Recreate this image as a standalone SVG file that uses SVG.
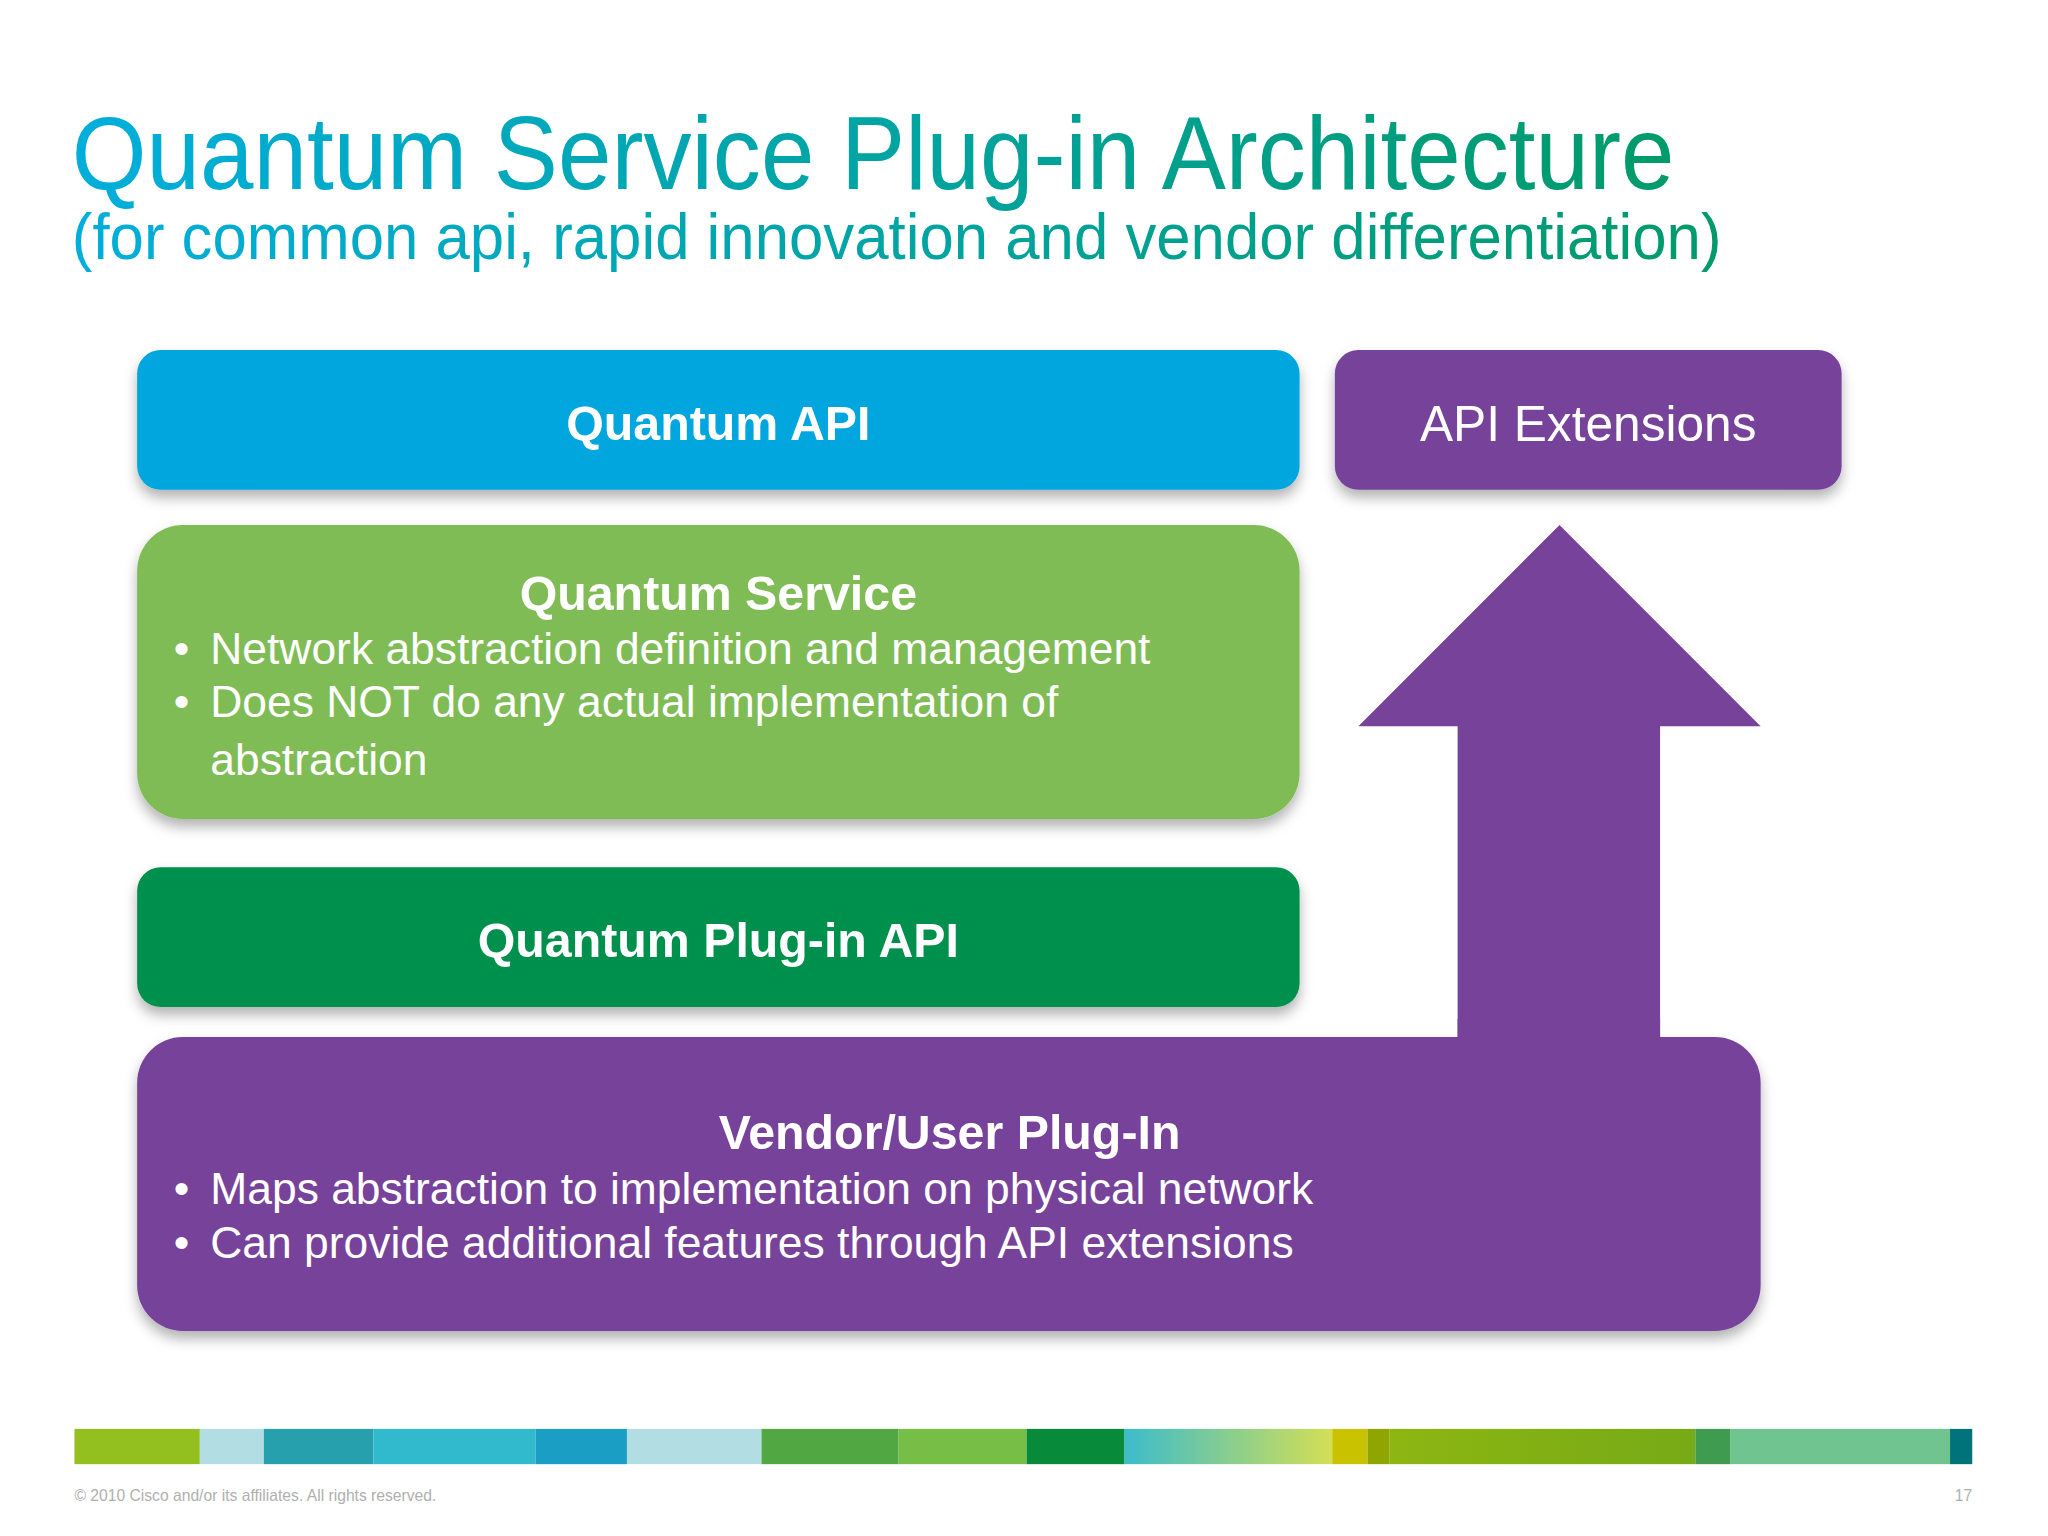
<svg xmlns="http://www.w3.org/2000/svg" width="2048" height="1536" viewBox="0 0 2048 1536">
<defs>
<linearGradient id="tg" x1="0" x2="1" y1="0" y2="0"><stop offset="0" stop-color="#00AEDB"/><stop offset="1" stop-color="#009A6A"/></linearGradient>
<linearGradient id="g1" x1="0" x2="1"><stop offset="0" stop-color="#3CBCCB"/><stop offset="1" stop-color="#D4DF55"/></linearGradient>
<linearGradient id="g2" x1="0" x2="1"><stop offset="0" stop-color="#8DB612"/><stop offset="1" stop-color="#76AA16"/></linearGradient>
<filter id="sh" x="-5%" y="-10%" width="110%" height="130%"><feDropShadow dx="0" dy="6" stdDeviation="5" flood-color="#000" flood-opacity="0.3"/></filter>
<style>
.t{font-family:"Liberation Sans",Arial,sans-serif;fill:#fff}
.b{font-weight:bold;font-size:37px}
.n{font-size:34px}
</style>
</defs>
<rect width="2048" height="1536" fill="#fff"/>
<g transform="scale(1.30612)">
<g id="title">
<text x="55" y="145" font-family="Liberation Sans,Arial,sans-serif" font-size="80" fill="url(#tg)" textLength="1227" lengthAdjust="spacingAndGlyphs">Quantum Service Plug-in Architecture</text>
<text x="55" y="198" font-family="Liberation Sans,Arial,sans-serif" font-size="50" fill="url(#tg)" textLength="1263" lengthAdjust="spacingAndGlyphs">(for common api, rapid innovation and vendor differentiation)</text>
</g>
<g id="api"><rect x="105" y="268" width="890" height="107" rx="18" fill="#02A6DD" filter="url(#sh)"/><text class="t b" x="550" y="337" text-anchor="middle">Quantum API</text></g>
<g id="ext"><rect x="1022" y="268" width="388" height="107" rx="18" fill="#77439A" filter="url(#sh)"/><text class="t" font-size="38" x="1216" y="338" text-anchor="middle">API Extensions</text></g>
<g id="service"><rect x="105" y="402" width="890" height="225" rx="35" fill="#80BC57" filter="url(#sh)"/>
<text class="t b" x="550" y="467" text-anchor="middle">Quantum Service</text>
<text class="t n" x="133" y="508">•</text><text class="t n" x="161" y="508">Network abstraction definition and management</text>
<text class="t n" x="133" y="549">•</text><text class="t n" x="161" y="549">Does NOT do any actual implementation of</text>
<text class="t n" x="161" y="593">abstraction</text></g>
<g id="plugin"><rect x="105" y="664" width="890" height="107" rx="18" fill="#00904E" filter="url(#sh)"/><text class="t b" x="550" y="733" text-anchor="middle">Quantum Plug-in API</text></g>
<g id="vendor"><path d="M1194 402 L1348 556 L1271 556 L1271 800 L1116 800 L1116 556 L1040 556 Z" fill="#77439A"/>
<rect x="105" y="794" width="1243" height="225" rx="35" fill="#77439A" filter="url(#sh)"/>
<rect x="1116" y="780" width="155" height="40" fill="#77439A"/>
<text class="t b" x="727" y="880" text-anchor="middle">Vendor/User Plug-In</text>
<text class="t n" x="133" y="922">•</text><text class="t n" x="161" y="922">Maps abstraction to implementation on physical network</text>
<text class="t n" x="133" y="963">•</text><text class="t n" x="161" y="963">Can provide additional features through API extensions</text></g>
<g id="connectors"/>
<g id="bar">
<rect x="57" y="1094" width="96" height="27" fill="#93C01F"/>
<rect x="153" y="1094" width="49" height="27" fill="#B2DDE3"/>
<rect x="202" y="1094" width="84" height="27" fill="#27A0AE"/>
<rect x="286" y="1094" width="124" height="27" fill="#31BACD"/>
<rect x="410" y="1094" width="70" height="27" fill="#1A9EC3"/>
<rect x="480" y="1094" width="103" height="27" fill="#B2DDE3"/>
<rect x="583" y="1094" width="105" height="27" fill="#51A843"/>
<rect x="688" y="1094" width="98" height="27" fill="#76BE45"/>
<rect x="786" y="1094" width="75" height="27" fill="#078A3A"/>
<rect x="861" y="1094" width="159" height="27" fill="url(#g1)"/>
<rect x="1020" y="1094" width="27" height="27" fill="#C8C200"/>
<rect x="1047" y="1094" width="17" height="27" fill="#8FA600"/>
<rect x="1064" y="1094" width="234" height="27" fill="url(#g2)"/>
<rect x="1298" y="1094" width="27" height="27" fill="#3F9B50"/>
<rect x="1325" y="1094" width="168" height="27" fill="#6FC48F"/>
<rect x="1493" y="1094" width="17" height="27" fill="#00727A"/>
</g>
<text x="57" y="1149" font-family="Liberation Sans,Arial,sans-serif" font-size="12" fill="#b0b0b0">© 2010 Cisco and/or its affiliates. All rights reserved.</text>
<text x="1510" y="1149" text-anchor="end" font-family="Liberation Sans,Arial,sans-serif" font-size="12" fill="#b0b0b0">17</text>
</g>
</svg>
